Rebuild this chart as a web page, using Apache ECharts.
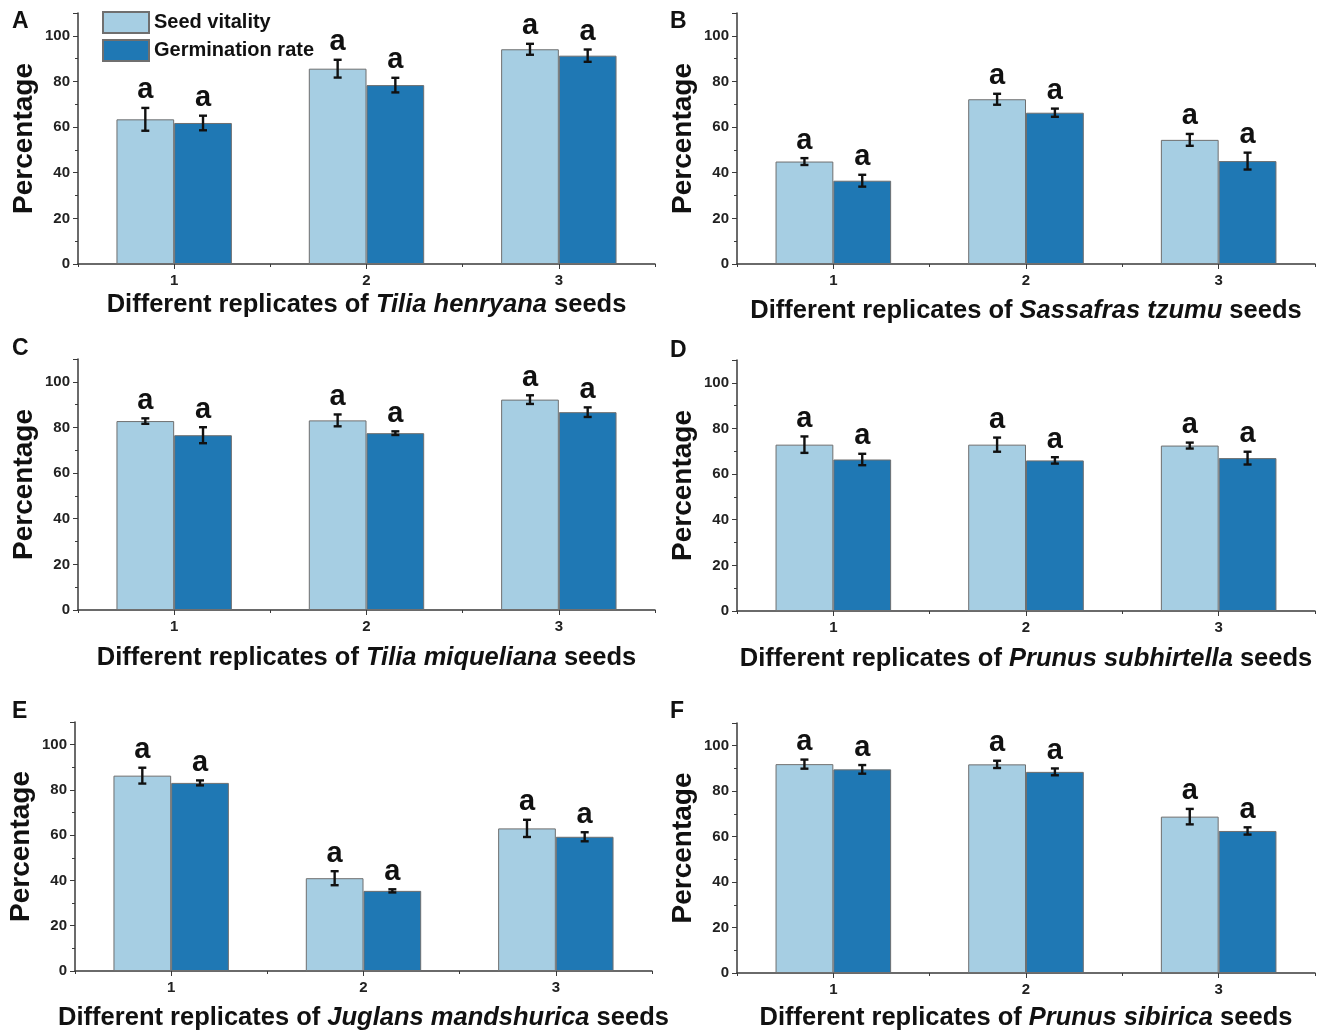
<!DOCTYPE html>
<html>
<head>
<meta charset="utf-8">
<title>Seed vitality and germination rate</title>
<script src="https://cdn.jsdelivr.net/npm/echarts@6/dist/echarts.min.js"></script>
<style>
  html, body { margin: 0; padding: 0; background: #fff; }
  #chart { width: 1319px; height: 1032px; }
</style>
</head>
<body>
<div id="chart"></div>
<script>
// replicates on the x axis
const categories = ['1', '2', '3']
const seriesNames = ['Seed vitality', 'Germination rate']

// A - Tilia henryana
const vitalityA = [63.4, 85.6, 94.1]
const vitalityErrA = [5.0, 3.9, 2.4]
const germA = [61.8, 78.4, 91.3]
const germErrA = [3.2, 3.2, 2.7]
// B - Sassafras tzumu
const vitalityB = [44.9, 72.2, 54.4]
const vitalityErrB = [1.5, 2.4, 2.6]
const germB = [36.5, 66.3, 45.1]
const germErrB = [2.6, 1.8, 3.7]
// C - Tilia miqueliana
const vitalityC = [82.8, 83.1, 92.2]
const vitalityErrC = [1.2, 2.6, 1.9]
const germC = [76.6, 77.5, 86.7]
const germErrC = [3.5, 0.8, 2.1]
// D - Prunus subhirtella
const vitalityD = [72.9, 72.9, 72.5]
const vitalityErrD = [3.6, 3.1, 1.3]
const germD = [66.4, 66.0, 67.0]
const germErrD = [2.5, 1.4, 2.8]
// E - Juglans mandshurica
const vitalityE = [86.3, 41.0, 63.0]
const vitalityErrE = [3.5, 3.1, 3.8]
const germE = [83.1, 35.4, 59.3]
const germErrE = [1.1, 0.7, 2.0]
// F - Prunus sibirica
const vitalityF = [91.9, 91.8, 68.8]
const vitalityErrF = [2.0, 1.6, 3.4]
const germF = [89.6, 88.5, 62.5]
const germErrF = [1.9, 1.5, 1.6]

// significance letters (same for every bar)
const sigVitality = ['a', 'a', 'a']
const sigGerm = ['a', 'a', 'a']

const panelLetters = ['A', 'B', 'C', 'D', 'E', 'F']
const species = ['Tilia henryana', 'Sassafras tzumu', 'Tilia miqueliana',
  'Prunus subhirtella', 'Juglans mandshurica', 'Prunus sibirica']
const yTicks = [0, 20, 40, 60, 80, 100]

const panelData = [
  [vitalityA, vitalityErrA, germA, germErrA],
  [vitalityB, vitalityErrB, germB, germErrB],
  [vitalityC, vitalityErrC, germC, germErrC],
  [vitalityD, vitalityErrD, germD, germErrD],
  [vitalityE, vitalityErrE, germE, germErrE],
  [vitalityF, vitalityErrF, germF, germErrF]
]

// layout of the six plot areas (px)
const grids = [
  { left: 78, top: 13, width: 577, height: 251 },
  { left: 737, top: 13, width: 578, height: 251 },
  { left: 78, top: 359, width: 577, height: 251 },
  { left: 737, top: 360, width: 578, height: 251 },
  { left: 75, top: 722, width: 577, height: 251 },
  { left: 737, top: 723, width: 578, height: 251 }
]
const xNameGap = [28, 34, 35, 35, 34, 32]
const letterPos = [[12, 10], [670, 10], [12, 337], [670, 339], [12, 700], [670, 700]]

const LIGHT = '#a6cee3'
const DARK = '#1f78b4'
const FONT = '"Liberation Sans", Arial, sans-serif'
const AXIS_COLOR = '#3a3a3a'
const TITLE_SIZE = 25.5

function errorRender(offset) {
  return function(params, api) {
    const cat = api.value(0)
    const v = api.value(1)
    const e = api.value(2)
    const bw = api.size([1, 0])[0]
    const top = api.coord([cat, v + e])
    const bot = api.coord([cat, v - e])
    const x = top[0] + offset * bw
    const cap = 4
    const s = { stroke: '#111', lineWidth: 2.4 }
    return {
      type: 'group',
      children: [
        { type: 'line', shape: { x1: x, y1: top[1], x2: x, y2: bot[1] }, style: s },
        { type: 'line', shape: { x1: x - cap, y1: top[1], x2: x + cap, y2: top[1] }, style: s },
        { type: 'line', shape: { x1: x - cap, y1: bot[1], x2: x + cap, y2: bot[1] }, style: s },
        {
          type: 'text',
          x: x,
          y: top[1] - 3,
          style: {
            text: api.value(3),
            fill: '#111',
            fontSize: 29,
            fontWeight: 'bold',
            fontFamily: FONT,
            align: 'center',
            verticalAlign: 'bottom'
          }
        }
      ]
    }
  }
}

const chart = echarts.init(document.getElementById('chart'), null, { renderer: 'canvas' })

const grid = []
const xAxis = []
const yAxis = []
const series = []
const graphic = []

panelData.forEach((d, i) => {
  grid.push(grids[i])
  xAxis.push({
    type: 'category',
    gridIndex: i,
    position: 'bottom',
    data: categories,
    name: 'Different replicates of {i|' + species[i] + '} seeds',
    nameLocation: 'middle',
    nameGap: xNameGap[i],
    nameTextStyle: {
      fontSize: TITLE_SIZE,
      fontWeight: 'bold',
      fontFamily: FONT,
      color: '#111',
      rich: {
        i: { fontSize: TITLE_SIZE, fontWeight: 'bold', fontStyle: 'italic', fontFamily: FONT, color: '#111' }
      }
    },
    axisLine: { lineStyle: { color: AXIS_COLOR, width: 1.5 } },
    axisTick: { show: true, alignWithLabel: true, length: 5, lineStyle: { color: AXIS_COLOR } },
    axisLabel: { margin: 9, fontSize: 15, fontWeight: 'bold', fontFamily: FONT, color: '#222' }
  })
  yAxis.push({
    type: 'value',
    gridIndex: i,
    min: 0,
    max: 110,
    interval: 20,
    name: 'Percentage',
    nameLocation: 'middle',
    nameGap: 40,
    nameTextStyle: { fontSize: 28, fontWeight: 'bold', fontFamily: FONT, color: '#111' },
    axisLine: { show: true, lineStyle: { color: AXIS_COLOR, width: 1.5 } },
    axisTick: { show: true, length: 5, lineStyle: { color: AXIS_COLOR } },
    minorTick: { show: true, splitNumber: 2, length: 3, lineStyle: { color: AXIS_COLOR } },
    splitLine: { show: false },
    axisLabel: {
      margin: 8,
      fontSize: 15,
      fontWeight: 'bold',
      fontFamily: FONT,
      color: '#222',
      formatter: v => (yTicks.indexOf(v) >= 0 ? String(v) : '')
    }
  })
  series.push({
    name: seriesNames[0],
    type: 'bar',
    xAxisIndex: i,
    yAxisIndex: i,
    data: d[0],
    barWidth: '30%',
    barGap: '0%',
    itemStyle: { color: LIGHT, borderColor: '#6f6f6f', borderWidth: 1 },
    animation: false
  })
  series.push({
    name: seriesNames[1],
    type: 'bar',
    xAxisIndex: i,
    yAxisIndex: i,
    data: d[2],
    barWidth: '30%',
    barGap: '0%',
    itemStyle: { color: DARK, borderColor: '#6f6f6f', borderWidth: 1 },
    animation: false
  })
  series.push({
    type: 'custom',
    xAxisIndex: i,
    yAxisIndex: i,
    renderItem: errorRender(-0.15),
    data: d[0].map((v, k) => [k, v, d[1][k], sigVitality[k]]),
    z: 5,
    animation: false
  })
  series.push({
    type: 'custom',
    xAxisIndex: i,
    yAxisIndex: i,
    renderItem: errorRender(0.15),
    data: d[2].map((v, k) => [k, v, d[3][k], sigGerm[k]]),
    z: 5,
    animation: false
  })
  graphic.push({
    type: 'text',
    left: letterPos[i][0],
    top: letterPos[i][1],
    style: { text: panelLetters[i], fontSize: 23, fontWeight: 'bold', fontFamily: FONT, fill: '#111' }
  })
})

// short ticks between replicate groups (no labels, no line)
panelData.forEach((d, i) => {
  xAxis.push({
    type: 'category',
    gridIndex: i,
    position: 'bottom',
    data: categories,
    axisLine: { show: false },
    axisTick: { show: true, alignWithLabel: false, length: 3, lineStyle: { color: AXIS_COLOR } },
    axisLabel: { show: false }
  })
})

chart.setOption({
  backgroundColor: '#fff',
  animation: false,
  legend: {
    data: seriesNames,
    orient: 'vertical',
    left: 102,
    top: 11,
    padding: 0,
    icon: 'rect',
    itemWidth: 46,
    itemHeight: 21,
    itemGap: 5,
    textStyle: { fontSize: 20, fontWeight: 'bold', fontFamily: FONT, color: '#111' }
  },
  grid: grid,
  xAxis: xAxis,
  yAxis: yAxis,
  series: series,
  graphic: graphic
})
</script>
</body>
</html>
